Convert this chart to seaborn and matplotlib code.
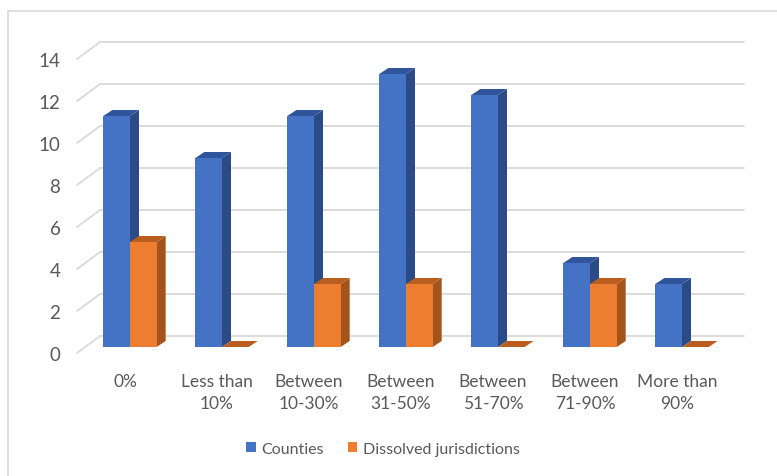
import numpy as np
import pandas as pd
import seaborn as sns
import matplotlib
matplotlib.use("Agg")
import matplotlib.pyplot as plt
import matplotlib.transforms as mtransforms
from matplotlib.patches import Polygon, Rectangle
from matplotlib.lines import Line2D

categories = ["0%", "Less than\n10%", "Between\n10-30%", "Between\n31-50%",
              "Between\n51-70%", "Between\n71-90%", "More than\n90%"]
counties = [11, 9, 11, 13, 12, 4, 3]
dissolved = [5, 0, 3, 3, 0, 3, 0]
series_names = ["Counties", "Dissolved jurisdictions"]
y_ticks = [0, 2, 4, 6, 8, 10, 12, 14]

front_colors = ["#4472C4", "#ED7D31"]
side_colors = ["#2B4B87", "#A4531C"]
top_colors = ["#30559B", "#BA5E20"]

df = pd.DataFrame({
    "category": categories * 2,
    "value": counties + dissolved,
    "series": [series_names[0]] * len(categories) + [series_names[1]] * len(categories),
})

sns.set_theme(style="white")
plt.rcParams["font.family"] = ["Lato", "DejaVu Sans"]

DPI = 100
W, H = 777, 477
fig = plt.figure(figsize=(W / DPI, H / DPI), dpi=DPI)
ax = fig.add_axes([84 / W, 1 - 348 / H, 644 / W, 294 / H])

sns.barplot(data=df, x="category", y="value", hue="series", order=categories,
            hue_order=series_names, palette=front_colors, width=0.58,
            saturation=1, ax=ax, legend=False, linewidth=0, zorder=3)

ax.set_xlim(-0.5, len(categories) - 0.5)
ax.set_ylim(0, 14)
ax.set_yticks(y_ticks)
ax.set_xlabel("")
ax.set_ylabel("")
for s in ax.spines.values():
    s.set_visible(False)
ax.grid(False)
ax.tick_params(axis="both", length=0, labelcolor="#595959")
ax.tick_params(axis="x", pad=19, labelsize=12.5)
ax.tick_params(axis="y", pad=17, labelsize=13.5)
for lab in ax.get_yticklabels():
    lab.set_transform(lab.get_transform() + mtransforms.ScaledTranslation(0, -6 / DPI, fig.dpi_scale_trans))
for lab in ax.get_xticklabels():
    lab.set_linespacing(1.4)
    lab.set_transform(lab.get_transform() + mtransforms.ScaledTranslation(-5 / DPI, 0, fig.dpi_scale_trans))

# 3D-like walls: front plane offset and back plane offset, in pixels
FRONT = np.array([-7.0, -6.0])
BACK = np.array([16.0, 11.0])
ident = mtransforms.IdentityTransform()
grid_color = "#D9D9D9"
x0, x1 = ax.get_xlim()
for v in y_ticks:
    pl = ax.transData.transform((x0, v))
    pr = ax.transData.transform((x1, v))
    f = pl + FRONT
    b = pl + BACK
    br = pr + BACK
    ax.add_line(Line2D([f[0], b[0]], [f[1], b[1]], color=grid_color, lw=1.3,
                       transform=ident, clip_on=False, zorder=0))
    ax.add_line(Line2D([b[0], br[0]], [b[1], br[1]], color=grid_color, lw=1.3,
                       transform=ident, clip_on=False, zorder=0))

# side and top faces of each bar
DEPTH = np.array([9.0, 6.0])
n = len(categories)
bars = list(ax.patches)
order = []
for ci in range(n):
    for si in range(2):
        order.append((ci, si, bars[si * n + ci]))
for k, (ci, si, bar) in enumerate(order):
    bx0, by0 = bar.get_x(), bar.get_y()
    bx1, by1 = bx0 + bar.get_width(), by0 + bar.get_height()
    p10 = ax.transData.transform((bx1, by0))
    p11 = ax.transData.transform((bx1, by1))
    p01 = ax.transData.transform((bx0, by1))
    bar.set_zorder(3 + 0.01 * k)
    side = Polygon([p10, p10 + DEPTH, p11 + DEPTH, p11], closed=True,
                   facecolor=side_colors[si], edgecolor="none",
                   transform=ident, clip_on=False, zorder=2 + 0.01 * k)
    top = Polygon([p01, p01 + DEPTH, p11 + DEPTH, p11], closed=True,
                  facecolor=top_colors[si], edgecolor="none",
                  transform=ident, clip_on=False, zorder=2 + 0.01 * k)
    ax.add_patch(side)
    ax.add_patch(top)

# legend
handles = [Rectangle((0, 0), 1, 1, facecolor=c, edgecolor="none") for c in front_colors]
fig.legend(handles, series_names, loc="center", bbox_to_anchor=(383 / W, 1 - 450 / H),
           ncol=2, frameon=False, fontsize=11.5, labelcolor="#595959",
           handlelength=0.6, handleheight=0.6, handletextpad=0.35, columnspacing=1.5)

# chart border lines (top and left)
fig.add_artist(Line2D([8 / W, 1], [1 - 12 / H, 1 - 12 / H], color="#D9D9D9", lw=1.2,
                      transform=fig.transFigure))
fig.add_artist(Line2D([8 / W, 8 / W], [0, 1 - 12 / H], color="#D9D9D9", lw=1.2,
                      transform=fig.transFigure))

fig.savefig("out.png", dpi=DPI)
